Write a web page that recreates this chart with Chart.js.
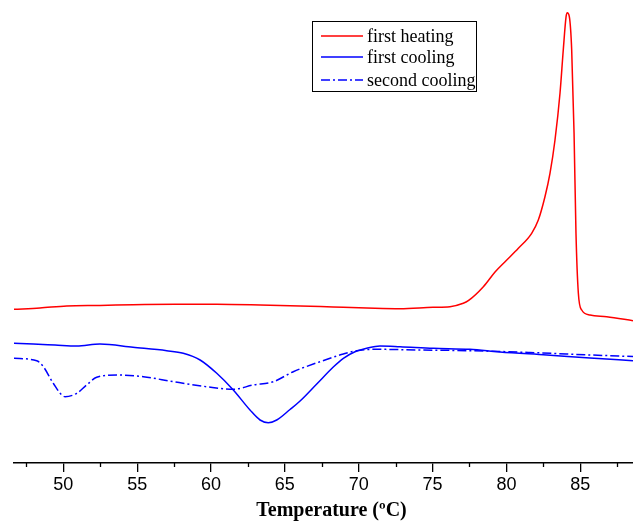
<!DOCTYPE html>
<html>
<head>
<meta charset="utf-8">
<script src="https://cdn.jsdelivr.net/npm/chart.js@4"></script>
<style>
  body { margin: 0; background: #fff; }
  #wrap { width: 633px; height: 521px; }
</style>
</head>
<body>
<div id="wrap"><canvas id="dsc"></canvas></div>
<script>
// first heating
const heatT = [46.66, 48.42, 50.23, 52.48, 54.72, 57.56, 60.39, 63.32, 66.03, 68.26, 70.54, 72.80, 75.03, 76.18, 77.08, 77.42, 78.44, 79.23, 79.91, 80.81, 81.71, 82.16, 82.61, 82.95, 83.29, 83.63, 83.85, 84.04, 84.12, 84.26, 84.42, 84.58, 84.71, 84.87, 85.10, 85.66, 86.79, 88.57];
const heatY = [157.7, 159, 161, 161.5, 162.3, 162.7, 162.7, 162, 161, 160, 159, 158.3, 159.7, 160.3, 163.7, 166.3, 180.3, 195, 205.3, 218.7, 233.7, 247, 270.3, 293.7, 327, 374, 417, 450.3, 454.3, 450.3, 417, 334, 234, 174, 157, 152, 150.3, 146.3];

// first cooling
const cool1T = [46.66, 47.97, 49.44, 50.91, 52.48, 54.72, 57.00, 58.12, 59.26, 60.39, 61.51, 62.64, 63.32, 63.88, 64.45, 65.35, 66.03, 67.16, 68.28, 68.96, 69.75, 70.54, 71.44, 72.80, 75.05, 77.53, 79.56, 82.73, 85.66, 88.57];
const cool1Y = [123.7, 123, 122, 121, 123, 119.7, 116.3, 113.7, 107, 93.7, 77, 57, 47, 44.3, 47, 57.5, 66, 83, 100, 108.7, 115.3, 118.7, 121, 120.3, 118.7, 117.7, 115, 112, 109, 106.3];

// second cooling
const cool2T = [46.66, 48.20, 48.65, 49.32, 50.12, 50.91, 51.58, 52.26, 53.62, 55.42, 57.45, 59.71, 61.51, 62.86, 64.22, 65.57, 67.38, 68.96, 69.86, 71.22, 73.93, 77.53, 81.59, 85.66, 88.57];
const cool2Y = [108.7, 106.3, 100.3, 83.7, 70.3, 73.7, 82, 89.7, 92, 90.3, 85.3, 80.3, 77.7, 82, 85.3, 95.3, 105.3, 113, 116.3, 117.7, 117, 116.3, 114.5, 112, 110.5];

const seriesNames = ["first heating", "first cooling", "second cooling"];
const xTitle = "Temperature (ºC)";

function pts(xs, ys) {
  return xs.map((x, i) => ({ x: x, y: ys[i] }));
}

// minor ticks, axis title and the boxed legend
const extras = {
  id: "extras",
  afterDraw(chart) {
    const ctx = chart.ctx;
    const xs = chart.scales.x;
    const bottom = chart.chartArea.bottom;
    ctx.save();
    ctx.strokeStyle = "#000";
    ctx.lineWidth = 1.3;
    for (let v = 47.5; v < 89; v += 5) {
      const px = Math.round(xs.getPixelForValue(v)) + 0.5;
      ctx.beginPath();
      ctx.moveTo(px, bottom);
      ctx.lineTo(px, bottom + 4);
      ctx.stroke();
    }

    ctx.fillStyle = "#000";
    ctx.font = "bold 20px 'Liberation Serif'";
    ctx.textAlign = "center";
    ctx.textBaseline = "alphabetic";
    ctx.fillText(xTitle, 331.5, 515.5);

    // legend
    ctx.lineWidth = 1;
    ctx.strokeRect(312.5, 21.5, 164, 70);
    const rows = [36, 57, 80];
    ctx.font = "18px 'Liberation Serif'";
    ctx.textAlign = "left";
    ctx.textBaseline = "middle";
    chart.data.datasets.forEach((ds, i) => {
      ctx.strokeStyle = ds.borderColor;
      ctx.lineWidth = 1.5;
      ctx.setLineDash(ds.borderDash || []);
      ctx.beginPath();
      ctx.moveTo(321, rows[i]);
      ctx.lineTo(363, rows[i]);
      ctx.stroke();
      ctx.setLineDash([]);
      ctx.fillStyle = "#000";
      ctx.fillText(ds.label, 367, rows[i] + 1);
    });
    ctx.restore();
  }
};

new Chart(document.getElementById("dsc"), {
  type: "line",
  data: {
    datasets: [
      {
        label: seriesNames[0],
        data: pts(heatT, heatY),
        borderColor: "rgb(255,0,0)",
        borderWidth: 1.5,
        pointRadius: 0,
        cubicInterpolationMode: "monotone"
      },
      {
        label: seriesNames[1],
        data: pts(cool1T, cool1Y),
        borderColor: "rgb(0,0,255)",
        borderWidth: 1.5,
        pointRadius: 0,
        cubicInterpolationMode: "monotone"
      },
      {
        label: seriesNames[2],
        data: pts(cool2T, cool2Y),
        borderColor: "rgb(0,0,255)",
        borderWidth: 1.5,
        borderDash: [9, 3, 2, 3],
        pointRadius: 0,
        cubicInterpolationMode: "monotone"
      }
    ]
  },
  options: {
    responsive: true,
    maintainAspectRatio: false,
    animation: false,
    layout: { padding: { left: 14, right: 0, top: 0, bottom: 0 } },
    plugins: {
      legend: { display: false },
      tooltip: { enabled: false }
    },
    scales: {
      x: {
        type: "linear",
        min: 46.662,
        max: 88.571,
        afterFit(scale) { scale.height = 58; },
        border: { display: true, color: "#000", width: 1.5 },
        grid: { drawOnChartArea: false, drawTicks: true, tickLength: 9, color: "#000", lineWidth: 1.3 },
        ticks: {
          stepSize: 5,
          includeBounds: false,
          color: "#000",
          padding: 2,
          maxRotation: 0,
          font: { family: "'Liberation Sans'", size: 18 }
        }
      },
      y: {
        display: false,
        min: 4,
        max: 467
      }
    }
  },
  plugins: [extras]
});
</script>
</body>
</html>
